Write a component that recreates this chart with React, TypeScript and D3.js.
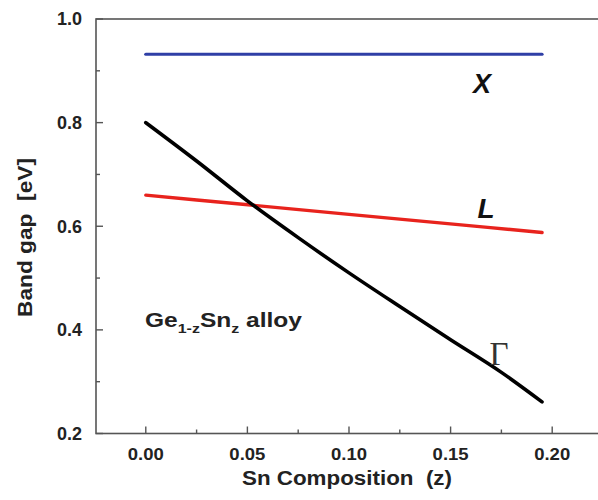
import React from "react";
import * as d3 from "d3";

const gammaZ = [0, 0.025, 0.05, 0.075, 0.1, 0.125, 0.15, 0.175, 0.195];
const gammaE = [0.8, 0.726, 0.649, 0.578, 0.51, 0.445, 0.381, 0.318, 0.261];
const lZ = [0, 0.1, 0.195];
const lE = [0.66, 0.623, 0.588];
const xZ = [0, 0.195];
const xE = [0.932, 0.932];
const xTicks = [0, 0.05, 0.1, 0.15, 0.2];
const xMinor = [0.025, 0.075, 0.125, 0.175];
const yTicks = [0.2, 0.4, 0.6, 0.8, 1.0];
const yMinor = [0.3, 0.5, 0.7, 0.9];

const W = 598;
const H = 500;

export default function App() {
  const x = d3.scaleLinear().domain([-0.0245, 0.225]).range([96, 603]);
  const y = d3.scaleLinear().domain([0.2, 1.0]).range([433.5, 19]);
  const line = d3
    .line<[number, number]>()
    .x((d) => x(d[0]))
    .y((d) => y(d[1]))
    .curve(d3.curveMonotoneX);
  const gamma = line(gammaZ.map((z, i) => [z, gammaE[i]]) as [number, number][]);
  const lLine = line(lZ.map((z, i) => [z, lE[i]]) as [number, number][]);
  const xLine = line(xZ.map((z, i) => [z, xE[i]]) as [number, number][]);
  const [x0, x1] = x.range();
  const [y0, y1] = y.range();
  const axisColor = "#555";
  const font = "'Liberation Sans', Arial, sans-serif";
  return (
    <svg
      width={W}
      height={H}
      style={{ position: "absolute", left: 0, top: 0, background: "#fff" }}
      fontFamily={font}
    >
      <rect x={0} y={0} width={W} height={H} fill="#fff" />
      {/* frame */}
      <rect x={x0} y={y1} width={x1 - x0} height={y0 - y1} fill="none" stroke={axisColor} strokeWidth={1.6} />
      {/* y ticks */}
      {yTicks.map((t) => (
        <g key={"yt" + t}>
          <line x1={x0} x2={x0 + 7} y1={y(t)} y2={y(t)} stroke={axisColor} strokeWidth={1.4} />
          <text x={82} y={y(t)} dy="0.36em" textAnchor="end" fontSize={17.5} fontWeight="bold" fill="#222"
            textLength={25} lengthAdjust="spacingAndGlyphs">
            {t.toFixed(1)}
          </text>
        </g>
      ))}
      {yMinor.map((t) => (
        <line key={"ym" + t} x1={x0} x2={x0 + 4} y1={y(t)} y2={y(t)} stroke={axisColor} strokeWidth={1.4} />
      ))}
      {/* x ticks */}
      {xTicks.map((t) => (
        <g key={"xt" + t}>
          <line x1={x(t)} x2={x(t)} y1={y0} y2={y0 - 7} stroke={axisColor} strokeWidth={1.4} />
          <text x={x(t)} y={460} textAnchor="middle" fontSize={17} fontWeight="bold" fill="#222"
            textLength={36} lengthAdjust="spacingAndGlyphs">
            {t.toFixed(2)}
          </text>
        </g>
      ))}
      {xMinor.map((t) => (
        <line key={"xm" + t} x1={x(t)} x2={x(t)} y1={y0} y2={y0 - 4} stroke={axisColor} strokeWidth={1.4} />
      ))}
      {/* axis titles */}
      <text x={347} y={485} textAnchor="middle" fontSize={20} fontWeight="bold" fill="#222" xmlSpace="preserve"
        textLength={210} lengthAdjust="spacingAndGlyphs">
        {"Sn Composition  (z)"}
      </text>
      <text
        transform={`translate(31.5, 237.5) rotate(-90)`}
        textAnchor="middle"
        fontSize={20}
        fontWeight="bold"
        fill="#222"
        xmlSpace="preserve"
        textLength={159}
        lengthAdjust="spacingAndGlyphs"
      >
        {"Band gap  [eV]"}
      </text>
      {/* series */}
      <path d={xLine ?? ""} fill="none" stroke="#2f3fa6" strokeWidth={3.2} strokeLinecap="round" />
      <path d={lLine ?? ""} fill="none" stroke="#e8231d" strokeWidth={3.4} strokeLinecap="round" />
      <path d={gamma ?? ""} fill="none" stroke="#000" strokeWidth={3.6} strokeLinecap="round" />
      {/* labels */}
      <text x={482} y={93} textAnchor="middle" fontSize={27} fontWeight="bold" fontStyle="italic" fill="#111">
        X
      </text>
      <text x={486} y={218} textAnchor="middle" fontSize={28} fontWeight="bold" fontStyle="italic" fill="#111">
        L
      </text>
      <text x={499} y={365} textAnchor="middle" fontSize={33} fontFamily="'Liberation Serif', 'DejaVu Serif', serif" fill="#333">
        Γ
      </text>
      <text x={145} y={326.5} fontSize={20} fontWeight="bold" fill="#222" textLength={157} lengthAdjust="spacingAndGlyphs">
        Ge
        <tspan fontSize={13} dy={6}>1-z</tspan>
        <tspan dy={-6}>Sn</tspan>
        <tspan fontSize={13} dy={6}>z</tspan>
        <tspan dy={-6}> alloy</tspan>
      </text>
    </svg>
  );
}
